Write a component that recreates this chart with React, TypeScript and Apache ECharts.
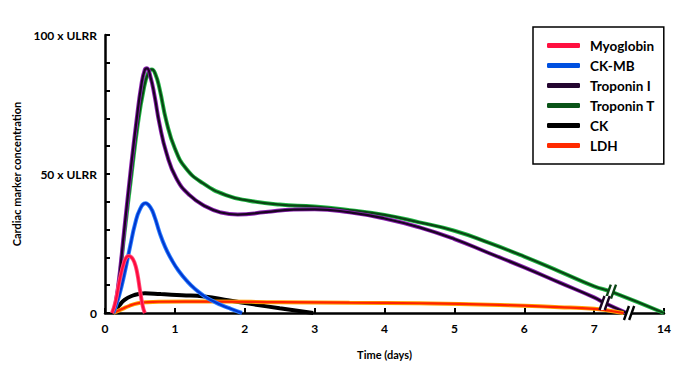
import React, { useEffect, useRef } from "react";
import * as echarts from "echarts";

const seriesNames = ["Myoglobin", "CK-MB", "Troponin I", "Troponin T", "CK", "LDH"];

// [day position, concentration in x ULRR]; position 8 is the "14" tick (after the axis break)
const myoglobin: [number, number][] = [
  [0.1, 0], [0.15, 4], [0.21, 11.9], [0.27, 18], [0.31, 20.2], [0.34, 20.5], [0.38, 20],
  [0.42, 18.3], [0.46, 14.5], [0.5, 8.3], [0.54, 2.5], [0.57, 0],
];
const ckmb: [number, number][] = [
  [0.12, 0], [0.2, 6], [0.28, 14.3], [0.36, 24], [0.43, 32], [0.5, 37.3], [0.58, 39.5],
  [0.65, 38], [0.71, 34.6], [0.78, 29], [0.86, 23.8], [0.95, 19.3], [1.05, 15.3],
  [1.18, 11.3], [1.3, 8.4], [1.42, 6.1], [1.55, 4.2], [1.66, 2.9], [1.8, 1.5], [1.96, 0],
];
const troponinI: [number, number][] = [
  [0.12, 0], [0.18, 8], [0.28, 31], [0.37, 52], [0.45, 69], [0.52, 82], [0.57, 87.5],
  [0.6, 88], [0.65, 85], [0.71, 78], [0.78, 68], [0.88, 57.5], [1.02, 48.5], [1.21, 42.4],
  [1.45, 38.2], [1.65, 36.2], [1.9, 35.4], [2.3, 36.3], [2.7, 37.2], [3.0, 37.3], [3.5, 36.2],
  [4.0, 34], [4.5, 30.8], [5.0, 26.6], [5.5, 21.5], [6.0, 16.4], [6.5, 11], [7.0, 5.6],
  [7.15, 3.6], [7.47, 0],
];
const troponinT: [number, number][] = [
  [0.12, 0], [0.18, 7], [0.28, 29], [0.38, 50], [0.47, 68], [0.55, 80], [0.62, 86.5],
  [0.67, 87.6], [0.72, 86], [0.78, 80.8], [0.88, 68.8], [1.0, 59.2], [1.16, 52], [1.4, 46.7],
  [1.73, 42.4], [2.06, 40.4], [2.5, 39], [3.0, 38.3], [3.5, 37], [4.0, 35.3], [4.5, 32.6],
  [5.0, 29.6], [5.5, 25.2], [6.0, 20.3], [6.5, 15], [7.0, 9.6], [7.24, 7.7], [8.0, 0],
];
const ck: [number, number][] = [
  [0.12, 0], [0.2, 2.6], [0.28, 4.7], [0.4, 6.3], [0.5, 6.9], [0.57, 7.1], [0.8, 6.8],
  [1.1, 6.4], [1.42, 5.9], [1.78, 4.5], [2.13, 3.1], [2.5, 1.7], [2.98, 0],
];
const ldh: [number, number][] = [
  [0.12, 0], [0.25, 1.5], [0.35, 2.6], [0.47, 3.5], [0.6, 3.9], [0.8, 4.05], [1.5, 4.1],
  [2.5, 3.9], [3.5, 3.7], [4.5, 3.5], [5.5, 3.0], [6.5, 2.1], [7.0, 1.5], [7.2, 0.9], [7.42, 0],
];

const xTickLabels = ["0", "1", "2", "3", "4", "5", "6", "7", "14"];
const yTickLabels: Record<number, string> = { 0: "0", 50: "50 x ULRR", 100: "100 x ULRR" };

// axis-break marks: [x, y, series index for colour]
const breakMarks: [number, number, number][] = [
  [7.5, 0, 4],
  [7.24, 7.7, 3],
  [7.15, 3.6, 2],
];

const edgeColors = ["#ff4d7a", "#2a7fff", "#8a20b0", "#22b845", "#000000", "#ffa000"];
const coreColors = ["#ff0a3c", "#0038d0", "#1a0422", "#0a4514", "#000000", "#ff2200"];
const legendColors = ["#ff1040", "#0050e0", "#240630", "#0a5418", "#000000", "#ff2a00"];

export default function App() {
  const ref = useRef<HTMLDivElement>(null);
  useEffect(() => {
    const chart = echarts.init(ref.current!, null, { renderer: "svg" });
    const font = "Lato, 'DejaVu Sans', sans-serif";
    const datasets = [myoglobin, ckmb, troponinI, troponinT, ck, ldh];
    const drawOrder = [3, 2, 4, 5, 1, 0];
    const series: any[] = [];
    drawOrder.forEach((i, k) => {
      series.push({
        type: "line",
        name: "_edge" + i,
        data: datasets[i],
        smooth: 0.5,
        symbol: "none",
        silent: true,
        lineStyle: { color: edgeColors[i], width: 4 },
        itemStyle: { color: edgeColors[i] },
        z: 2 + k * 2,
      });
      series.push({
        type: "line",
        name: seriesNames[i],
        data: datasets[i],
        smooth: 0.5,
        symbol: "none",
        lineStyle: { color: coreColors[i], width: 2.2 },
        itemStyle: { color: legendColors[i] },
        z: 3 + k * 2,
      });
    });
    series.push({
      type: "custom",
      name: "_breaks",
      data: breakMarks,
      encode: { x: 0, y: 1 },
      silent: true,
      z: 40,
      clip: false,
      renderItem: (_params: any, api: any) => {
        const p = api.coord([api.value(0), api.value(1)]);
        const idx = api.value(2);
        const c = coreColors[idx];
        const h = 7;
        const s = 2.5;
        const d = 2.6;
        const x = p[0];
        const y = p[1];
        return {
          type: "group",
          children: [
            {
              type: "polygon",
              shape: {
                points: [
                  [x - d - s, y + h],
                  [x - d + s, y - h],
                  [x + d + s, y - h],
                  [x + d - s, y + h],
                ],
              },
              style: { fill: "#ffffff" },
            },
            {
              type: "line",
              shape: { x1: x - d - s, y1: y + h, x2: x - d + s, y2: y - h },
              style: { stroke: c, lineWidth: 2.4 },
            },
            {
              type: "line",
              shape: { x1: x + d - s, y1: y + h, x2: x + d + s, y2: y - h },
              style: { stroke: c, lineWidth: 2.4 },
            },
          ],
        };
      },
    });

    chart.setOption({
      animation: false,
      backgroundColor: "#ffffff",
      textStyle: { fontFamily: font },
      grid: { left: 105, right: 23, top: 35, bottom: 59 },
      legend: {
        data: seriesNames.map((n, i) => ({ name: n, itemStyle: { color: legendColors[i] } })),
        orient: "vertical",
        left: 533,
        top: 27,
        padding: [11, 9, 11, 14],
        icon: "roundRect",
        itemWidth: 33,
        itemHeight: 5,
        itemGap: 5,
        borderColor: "#000",
        borderWidth: 1.5,
        borderRadius: 0,
        backgroundColor: "#fff",
        textStyle: {
          fontFamily: font,
          fontWeight: "bold",
          fontSize: 13.5,
          color: "#000",
          lineHeight: 15,
          padding: [0, 0, 0, 5],
        },
      },
      xAxis: {
        type: "value",
        min: 0,
        max: 8,
        interval: 1,
        name: "Time (days)",
        nameLocation: "middle",
        nameGap: 36,
        nameTextStyle: { fontFamily: font, fontWeight: "bold", fontSize: 11, color: "#000" },
        axisLine: { lineStyle: { color: "#000", width: 2.5 } },
        axisTick: { inside: true, length: 5, lineStyle: { color: "#000", width: 2 } },
        axisLabel: {
          formatter: (v: number) => xTickLabels[Math.round(v)] ?? "",
          fontFamily: font,
          fontWeight: "bold",
          fontSize: 12,
          color: "#000",
          margin: 9,
        },
        splitLine: { show: false },
      },
      yAxis: {
        type: "value",
        min: 0,
        max: 100,
        interval: 10,
        name: "Cardiac marker concentration",
        nameLocation: "middle",
        nameGap: 83,
        nameTextStyle: { fontFamily: font, fontWeight: "bold", fontSize: 11, color: "#000" },
        axisLine: { show: true, lineStyle: { color: "#000", width: 2.5 } },
        axisTick: { show: true, inside: true, length: 5, lineStyle: { color: "#000", width: 2 } },
        axisLabel: {
          formatter: (v: number) => yTickLabels[Math.round(v)] ?? "",
          fontFamily: font,
          fontWeight: "bold",
          fontSize: 12,
          color: "#000",
          margin: 8,
        },
        splitLine: { show: false },
      },
      series,
    });
    return () => chart.dispose();
  }, []);
  return (
    <div
      ref={ref}
      style={{ position: "fixed", left: 0, top: 0, width: 687, height: 372, background: "#fff" }}
    />
  );
}
